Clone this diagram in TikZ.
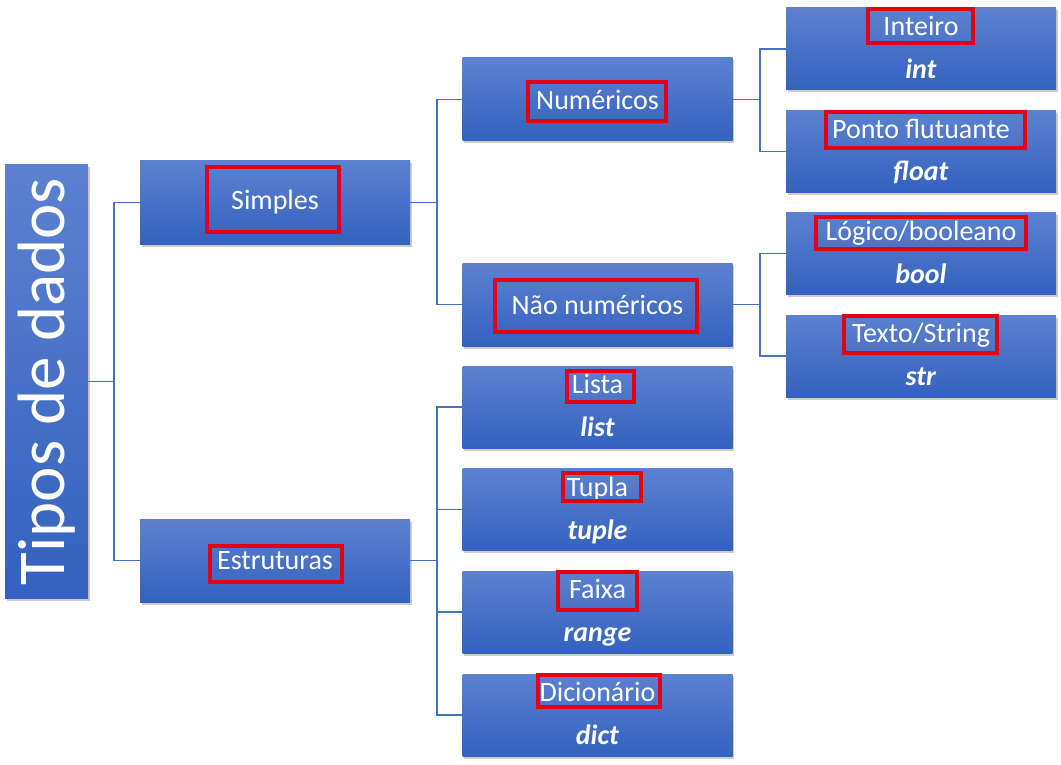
\documentclass[tikz,border=0pt]{standalone}
\usepackage{fontspec}
\setmainfont{Carlito}
\usepackage{graphicx}
\usetikzlibrary{shadows}

\definecolor{boxtop}{RGB}{92,129,208}
\definecolor{boxbottom}{RGB}{52,97,190}
\definecolor{linkblue}{RGB}{68,114,196}
\definecolor{framered}{RGB}{226,0,18}
\newcommand{\vstrut}{\rule[-7pt]{0pt}{30pt}}

\tikzset{
  typebox/.style={rectangle, top color=boxtop, bottom color=boxbottom, text=white,
    minimum width=270pt, minimum height=83pt, inner sep=0pt, align=center,
    font=\fontsize{28}{43}\selectfont,
    drop shadow={shadow xshift=1.5pt, shadow yshift=-2.5pt, opacity=0.4}},
  link/.style={draw=linkblue, line width=1.8pt},
  redframe/.style={draw=framered, line width=3.2pt},
}

\begin{document}
\begin{tikzpicture}[x=1pt,y=-1pt]
\useasboundingbox (0,0) rectangle (1061,765);

% Root
\node[typebox, minimum width=83pt, minimum height=433pt, font=\fontsize{67}{80}\selectfont] (tipos) at (46.5,381.5) {\rotatebox{90}{Tipos de dados}};

% First level
\node[typebox] (simples) at (275,202.5) {Simples};
\node[typebox] (estruturas) at (275,560.5) {Estruturas};
\draw[link] (tipos.east) -- ++(26,0) coordinate (tiposfork) |- (simples.west);
\draw[link] (tiposfork) |- (estruturas.west);

% Simple types
\node[typebox] (numericos) at (597.5,99.5) {Numéricos};
\node[typebox] (naonum) at (597.5,304.5) {Não numéricos};
\draw[link] (simples.east) -- ++(27,0) coordinate (simplesfork) |- (numericos.west);
\draw[link] (simplesfork) |- (naonum.west);

\node[typebox, minimum height=82pt] (inteiro) at (921,49) {\vstrut Inteiro\\\vstrut\textbf{\textit{int}}};
\node[typebox, minimum height=82pt] (ponto) at (921,151.5) {\vstrut Ponto flutuante\\\vstrut\textbf{\textit{float}}};
\draw[link] (numericos.east) -- ++(27,0) coordinate (numfork) |- (inteiro.west);
\draw[link] (numfork) |- (ponto.west);

\node[typebox, minimum height=82pt] (logico) at (921,253.5) {\vstrut Lógico/booleano\\\vstrut\textbf{\textit{bool}}};
\node[typebox, minimum height=82pt] (texto) at (921,356) {\vstrut Texto/String\\\vstrut\textbf{\textit{str}}};
\draw[link] (naonum.east) -- ++(27,0) coordinate (naofork) |- (logico.west);
\draw[link] (naofork) |- (texto.west);

% Structures
\node[typebox, minimum height=82pt] (lista) at (597.5,407) {\vstrut Lista\\\vstrut\textbf{\textit{list}}};
\node[typebox, minimum height=82pt] (tupla) at (597.5,509.5) {\vstrut Tupla\\\vstrut\textbf{\textit{tuple}}};
\node[typebox, minimum height=82pt] (faixa) at (597.5,612) {\vstrut Faixa\\\vstrut\textbf{\textit{range}}};
\node[typebox, minimum height=82pt] (dicionario) at (597.5,715) {\vstrut Dicionário\\\vstrut\textbf{\textit{dict}}};
\draw[link] (estruturas.east) -- ++(27,0) coordinate (estfork) |- (lista.west);
\draw[link] (estfork) |- (tupla.west);
\draw[link] (estfork) |- (faixa.west);
\draw[link] (estfork) |- (dicionario.west);

% Red frames round the names
\draw[redframe] (207,167) rectangle (339,232);
\draw[redframe] (210,546) rectangle (342,582);
\draw[redframe] (528,82) rectangle (666,121);
\draw[redframe] (495,280) rectangle (697,332);
\draw[redframe] (868,9) rectangle (973,43);
\draw[redframe] (826,112) rectangle (1025,148);
\draw[redframe] (816,217) rectangle (1026,249);
\draw[redframe] (844,316) rectangle (997,353);
\draw[redframe] (567,371) rectangle (634,402);
\draw[redframe] (563,473) rectangle (641,501);
\draw[redframe] (558,572) rectangle (637,610);
\draw[redframe] (538,675) rectangle (660,707);
\end{tikzpicture}
\end{document}
